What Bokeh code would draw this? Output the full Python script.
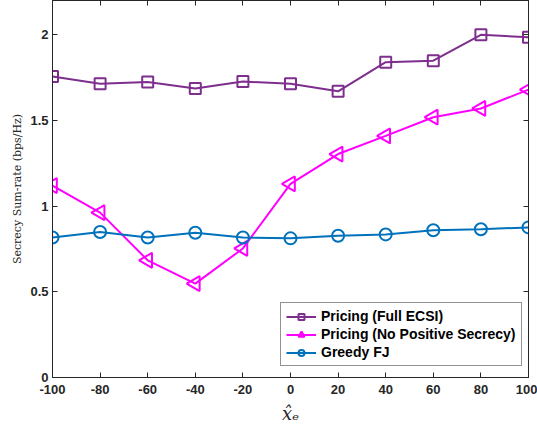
from bokeh.plotting import figure
from bokeh.models import LinearAxis, Legend, LegendItem, FixedTicker
from bokeh.embed import file_html
from bokeh.resources import INLINE

x_vals = [-100, -80, -60, -40, -20, 0, 20, 40, 60, 80, 100]
full_ecsi = [1.757, 1.714, 1.725, 1.686, 1.727, 1.714, 1.670, 1.840, 1.849, 2.000, 1.986]
no_pos_secrecy = [1.120, 0.962, 0.684, 0.548, 0.753, 1.130, 1.304, 1.410, 1.519, 1.570, 1.680]
greedy_fj = [0.817, 0.849, 0.817, 0.845, 0.817, 0.812, 0.827, 0.835, 0.859, 0.865, 0.876]

x_ticks = [-100, -80, -60, -40, -20, 0, 20, 40, 60, 80, 100]
x_tick_labels = ["-100", "-80", "-60", "-40", "-20", "0", "20", "40", "60", "80", "100"]
y_ticks = [0, 0.5, 1, 1.5, 2]
y_tick_labels = ["0", "0.5", "1", "1.5", "2"]

names = ["Pricing (Full ECSI)", "Pricing (No Positive Secrecy)", "Greedy FJ"]
colors = ["#7E2F8E", "#FF00FF", "#0072BD"]

p = figure(width=537, height=433, x_range=(-100, 100), y_range=(0, 2.2),
           output_backend="svg", toolbar_location=None,
           min_border_left=52, min_border_right=9, min_border_top=0, min_border_bottom=56)
p.xgrid.visible = False
p.ygrid.visible = False
p.outline_line_color = "#262626"
p.outline_line_width = 1
p.background_fill_color = "white"
p.border_fill_color = "white"

axcol = "#262626"
for ax in [p.xaxis[0], p.yaxis[0]]:
    ax.axis_line_color = axcol
    ax.major_tick_line_color = axcol
    ax.major_tick_in = 5
    ax.major_tick_out = 0
    ax.minor_tick_line_color = None
    ax.major_label_text_font = "Liberation Sans"
    ax.major_label_text_font_style = "bold"
    ax.major_label_text_font_size = "13px"
    ax.major_label_text_color = axcol

p.xaxis[0].ticker = FixedTicker(ticks=x_ticks)
p.yaxis[0].ticker = FixedTicker(ticks=y_ticks)
p.xaxis[0].major_label_overrides = dict(zip(x_ticks, x_tick_labels))
p.yaxis[0].major_label_overrides = dict(zip(y_ticks, y_tick_labels))
p.xaxis[0].major_label_standoff = 7
p.yaxis[0].major_label_standoff = 4

p.yaxis[0].axis_label = "Secrecy Sum-rate (bps/Hz)"
p.yaxis[0].axis_label_text_font = "DejaVu Serif"
p.yaxis[0].axis_label_text_font_style = "normal"
p.yaxis[0].axis_label_text_font_size = "11px"
p.yaxis[0].axis_label_text_color = axcol
p.yaxis[0].axis_label_standoff = 3

p.xaxis[0].axis_label = "x\u0302\u2091"
p.xaxis[0].axis_label_text_font = "DejaVu Serif"
p.xaxis[0].axis_label_text_font_style = "italic"
p.xaxis[0].axis_label_text_font_size = "18px"
p.xaxis[0].axis_label_text_color = axcol
p.xaxis[0].axis_label_standoff = 6

top = LinearAxis(ticker=FixedTicker(ticks=x_ticks))
right = LinearAxis(ticker=FixedTicker(ticks=y_ticks))
top.major_label_overrides = {t: "" for t in x_ticks}
right.major_label_overrides = {t: "" for t in y_ticks}
for ax in [top, right]:
    ax.axis_line_color = axcol
    ax.major_tick_line_color = axcol
    ax.major_tick_in = 5
    ax.major_tick_out = 0
    ax.minor_tick_line_color = None
    ax.major_label_standoff = 0
p.add_layout(top, "above")
p.add_layout(right, "right")

r1l = p.line(x_vals, full_ecsi, line_color=colors[0], line_width=2)
r1m = p.scatter(x_vals, full_ecsi, marker="square", size=11, line_color=colors[0],
                fill_color=None, line_width=2)
r2l = p.line(x_vals, no_pos_secrecy, line_color=colors[1], line_width=2)
r2m = p.scatter(x_vals, no_pos_secrecy, marker="triangle", angle=1.5708, size=15,
                line_color=colors[1], fill_color=None, line_width=2)
r3l = p.line(x_vals, greedy_fj, line_color=colors[2], line_width=2)
r3m = p.scatter(x_vals, greedy_fj, marker="circle", size=12, line_color=colors[2],
                fill_color=None, line_width=2)

legend = Legend(items=[
    LegendItem(label=names[0], renderers=[r1l, r1m]),
    LegendItem(label=names[1], renderers=[r2l, r2m]),
    LegendItem(label=names[2], renderers=[r3l, r3m]),
], location=(228, 11))
legend.label_text_font = "Liberation Sans"
legend.label_text_font_style = "bold"
legend.label_text_font_size = "14px"
legend.label_text_color = "#000000"
legend.glyph_width = 30
legend.glyph_height = 15
legend.label_height = 15
legend.spacing = 2
legend.padding = 5
legend.margin = 0
legend.label_standoff = 5
legend.border_line_color = "#262626"
legend.border_line_width = 1
legend.background_fill_alpha = 1
p.add_layout(legend)

open("out.html", "w").write(file_html(p, INLINE))
